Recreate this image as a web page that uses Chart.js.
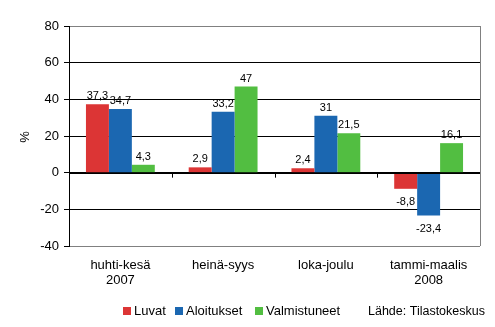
<!DOCTYPE html>
<html>
<head>
<meta charset="utf-8">
<script src="https://cdn.jsdelivr.net/npm/chart.js@4"></script>
<style>
  body { margin: 0; background: #fff; }
</style>
</head>
<body>
<canvas id="myChart" width="495" height="327"></canvas>
<script>
var labels = [["huhti-kesä", "2007"], ["heinä-syys"], ["loka-joulu"], ["tammi-maalis", "2008"]];
var luvat = [37.3, 2.9, 2.4, -8.8];
var aloitukset = [34.7, 33.2, 31, -23.4];
var valmistuneet = [4.3, 47, 21.5, 16.1];
var yTicks = [-40, -20, 0, 20, 40, 60, 80];
var source = "Lähde: Tilastokeskus";

var FONT = "'Liberation Sans', Arial, sans-serif";

function fmt(v) {
    return String(v).replace(".", ",");
}

// data labels, legend, extra lines
var extras = {
    id: 'extras',
    afterDatasetsDraw: function (chart) {
        var ctx = chart.ctx;
        var area = chart.chartArea;
        var y = chart.scales.y;
        var y0 = y.getPixelForValue(0);

        ctx.save();
        // right border
        ctx.strokeStyle = '#808080';
        ctx.lineWidth = 1;
        ctx.beginPath();
        ctx.moveTo(Math.round(area.right) + 0.5, area.top);
        ctx.lineTo(Math.round(area.right) + 0.5, area.bottom);
        ctx.stroke();

        // zero line and category ticks
        ctx.strokeStyle = '#000';
        ctx.beginPath();
        ctx.moveTo(area.left, Math.round(y0) + 0.5);
        ctx.lineTo(area.right, Math.round(y0) + 0.5);
        var w = (area.right - area.left) / labels.length;
        for (var i = 1; i < labels.length; i++) {
            var px = Math.round(area.left + i * w) + 0.5;
            ctx.moveTo(px, y0);
            ctx.lineTo(px, y0 + 5);
        }
        ctx.stroke();

        // value labels
        ctx.font = '11px ' + FONT;
        ctx.fillStyle = '#000';
        ctx.textAlign = 'center';
        ctx.textBaseline = 'middle';
        chart.data.datasets.forEach(function (ds, di) {
            var meta = chart.getDatasetMeta(di);
            meta.data.forEach(function (bar, j) {
                var v = ds.data[j];
                var ty = v >= 0 ? bar.y - 8 : bar.y + 13;
                ctx.fillText(fmt(v), bar.x, ty);
            });
        });

        // y title
        ctx.save();
        ctx.translate(25, 137);
        ctx.rotate(-Math.PI / 2);
        ctx.font = '13px ' + FONT;
        ctx.fillText('%', 0, 0);
        ctx.restore();

        // legend
        ctx.font = '13px ' + FONT;
        ctx.textAlign = 'left';
        var lx = [123, 175, 255];
        chart.data.datasets.forEach(function (ds, di) {
            ctx.fillStyle = ds.backgroundColor;
            ctx.fillRect(lx[di], 307, 8, 8);
            ctx.fillStyle = '#000';
            ctx.fillText(ds.label, lx[di] + 11, 311.5);
        });
        ctx.font = '12.5px ' + FONT;
        ctx.fillText(source, 368, 311.5);
        ctx.restore();
    }
};

function renderChart() {
    var ctx = document.getElementById("myChart").getContext('2d');
    var myChart = new Chart(ctx, {
        type: 'bar',
        data: {
            labels: labels,
            datasets: [{
                label: 'Luvat',
                data: luvat,
                backgroundColor: '#DC3535'
            }, {
                label: 'Aloitukset',
                data: aloitukset,
                backgroundColor: '#1B67B1'
            }, {
                label: 'Valmistuneet',
                data: valmistuneet,
                backgroundColor: '#52BE41'
            }]
        },
        options: {
            responsive: false,
            animation: false,
            layout: { padding: { top: 26, right: 15, left: 0, bottom: 0 } },
            plugins: {
                legend: { display: false },
                tooltip: { enabled: false }
            },
            datasets: {
                bar: { categoryPercentage: 0.67, barPercentage: 1 }
            },
            scales: {
                x: {
                    grid: { display: false, drawTicks: false },
                    border: { display: false },
                    ticks: {
                        color: '#000',
                        padding: 12,
                        maxRotation: 0,
                        font: { family: FONT, size: 13, lineHeight: 1.15 }
                    },
                    afterFit: function (scale) { scale.height = 81; }
                },
                y: {
                    min: -40,
                    max: 80,
                    afterBuildTicks: function (scale) {
                        scale.ticks = yTicks.map(function (v) { return { value: v }; });
                    },
                    grid: {
                        color: function (c) {
                            return (c.tick && (c.tick.value === 80 || c.tick.value === -40)) ? '#808080' : '#000';
                        },
                        tickColor: '#000',
                        tickLength: 5
                    },
                    border: { color: '#000' },
                    ticks: {
                        color: '#000',
                        padding: 5,
                        font: { family: FONT, size: 13 }
                    },
                    afterFit: function (scale) { scale.width = 69; }
                }
            }
        },
        plugins: [extras]
    });
}

renderChart();
</script>
</body>
</html>
